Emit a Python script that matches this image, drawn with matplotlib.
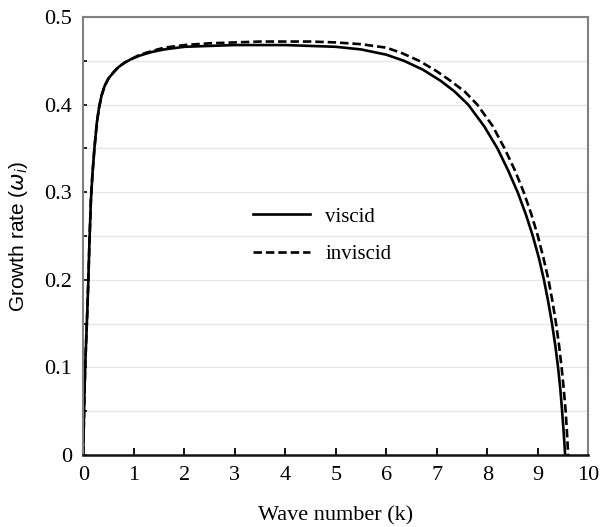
import matplotlib
matplotlib.use("Agg")
import matplotlib.pyplot as plt
from matplotlib.ticker import MultipleLocator

# ---- data ----
k_viscid = [0, 0.01, 0.025, 0.04, 0.06, 0.08, 0.1, 0.12, 0.15, 0.18, 0.22, 0.27, 0.31,
            0.36, 0.42, 0.5, 0.6, 0.7, 0.82, 0.95, 1.12, 1.35, 1.6, 2.0, 2.5, 3.0, 3.5,
            4.0, 4.5, 5.0, 5.5, 6.0, 6.35, 6.72, 7.08, 7.35, 7.62, 7.94, 8.2, 8.41, 8.6,
            8.76, 8.9, 9.02, 9.12, 9.205, 9.28, 9.345, 9.40, 9.445, 9.48, 9.512, 9.54]
w_viscid = [0, 0.035, 0.075, 0.105, 0.135, 0.165, 0.2, 0.24, 0.29, 0.32, 0.35, 0.38, 0.396,
            0.41, 0.421, 0.43, 0.437, 0.443, 0.448, 0.452, 0.456, 0.46, 0.463, 0.466, 0.467, 0.468, 0.468,
            0.468, 0.467, 0.466, 0.463, 0.457, 0.45, 0.44, 0.427, 0.415, 0.40, 0.375, 0.35, 0.325, 0.30,
            0.275, 0.25, 0.225, 0.20, 0.175, 0.15, 0.125, 0.10, 0.075, 0.05, 0.025, 0.0]

k_inviscid = [0, 0.01, 0.025, 0.04, 0.06, 0.08, 0.1, 0.12, 0.15, 0.18, 0.22, 0.27, 0.31,
              0.36, 0.42, 0.5, 0.6, 0.7, 0.82, 0.95, 1.12, 1.35, 1.6, 2.0, 2.5, 3.0, 3.5,
              4.0, 4.5, 5.0, 5.5, 6.0, 6.3, 6.65, 7.0, 7.25, 7.55, 7.8, 8.1, 8.34, 8.545,
              8.72, 8.87, 9.0, 9.11, 9.21, 9.29, 9.36, 9.42, 9.47, 9.513, 9.55, 9.577, 9.6]
w_inviscid = [0, 0.035, 0.075, 0.105, 0.135, 0.165, 0.2, 0.24, 0.29, 0.32, 0.35, 0.38, 0.396,
              0.41, 0.421, 0.43, 0.437, 0.443, 0.448, 0.452, 0.457, 0.461, 0.465, 0.468, 0.47, 0.471, 0.472,
              0.472, 0.472, 0.471, 0.469, 0.465, 0.459, 0.45, 0.438, 0.428, 0.415, 0.40, 0.376, 0.35, 0.325,
              0.30, 0.275, 0.25, 0.225, 0.20, 0.175, 0.15, 0.125, 0.10, 0.075, 0.05, 0.025, 0.0]

x_ticks = [0, 1, 2, 3, 4, 5, 6, 7, 8, 9, 10]
y_ticks = [0, 0.1, 0.2, 0.3, 0.4, 0.5]
y_tick_labels = ["0", "0.1", "0.2", "0.3", "0.4", "0.5"]

fig = plt.figure(figsize=(6.01, 5.27), dpi=100)
ax = fig.add_axes([0.1386, 0.1366, 0.8404, 0.8311])

serif = ["Liberation Serif", "DejaVu Serif"]
sans = ["Liberation Sans", "DejaVu Sans"]

ax.plot(k_viscid, w_viscid, color="black", lw=1.9, solid_joinstyle="round", label="viscid")
ax.plot(k_inviscid, w_inviscid, color="black", lw=1.9, ls=(0, (3.2, 1.5)), label="inviscid")

ax.set_xlim(0, 10)
ax.set_ylim(0, 0.5)
ax.set_xticks(x_ticks)
ax.set_xticklabels([str(t) for t in x_ticks], fontfamily=serif, fontsize=16)
ax.set_yticks(y_ticks)
ax.set_yticklabels(y_tick_labels, fontfamily=serif, fontsize=16)
ax.yaxis.set_minor_locator(MultipleLocator(0.05))

ax.grid(True, axis="y", which="both", color="#e6e6e6", lw=1.0)
ax.set_axisbelow(True)

ax.tick_params(axis="x", direction="in", length=5, width=1.3, pad=8, top=False)
ax.tick_params(axis="y", which="major", direction="in", length=3, width=1.2, pad=8, right=False)
ax.tick_params(axis="y", which="minor", direction="in", length=3, width=1.2, right=False)

ax.spines["bottom"].set_color("#111111")
ax.spines["bottom"].set_linewidth(1.8)
for side in ("left", "top", "right"):
    ax.spines[side].set_color("#808080")
    ax.spines[side].set_linewidth(1.5)

ax.set_xlabel("Wave number (k)", fontfamily=serif, fontsize=16, labelpad=15)
ax.set_ylabel(r"Growth rate ($\omega_i$)", fontfamily=sans, fontsize=15, labelpad=10)

leg = ax.legend(loc="center left", bbox_to_anchor=(0.336, 0.501), frameon=False,
                prop={"family": serif, "size": 15}, handlelength=2.75, handletextpad=0.72,
                labelspacing=0.85, borderpad=0, borderaxespad=0)

fig.savefig("out.png", dpi=100)
